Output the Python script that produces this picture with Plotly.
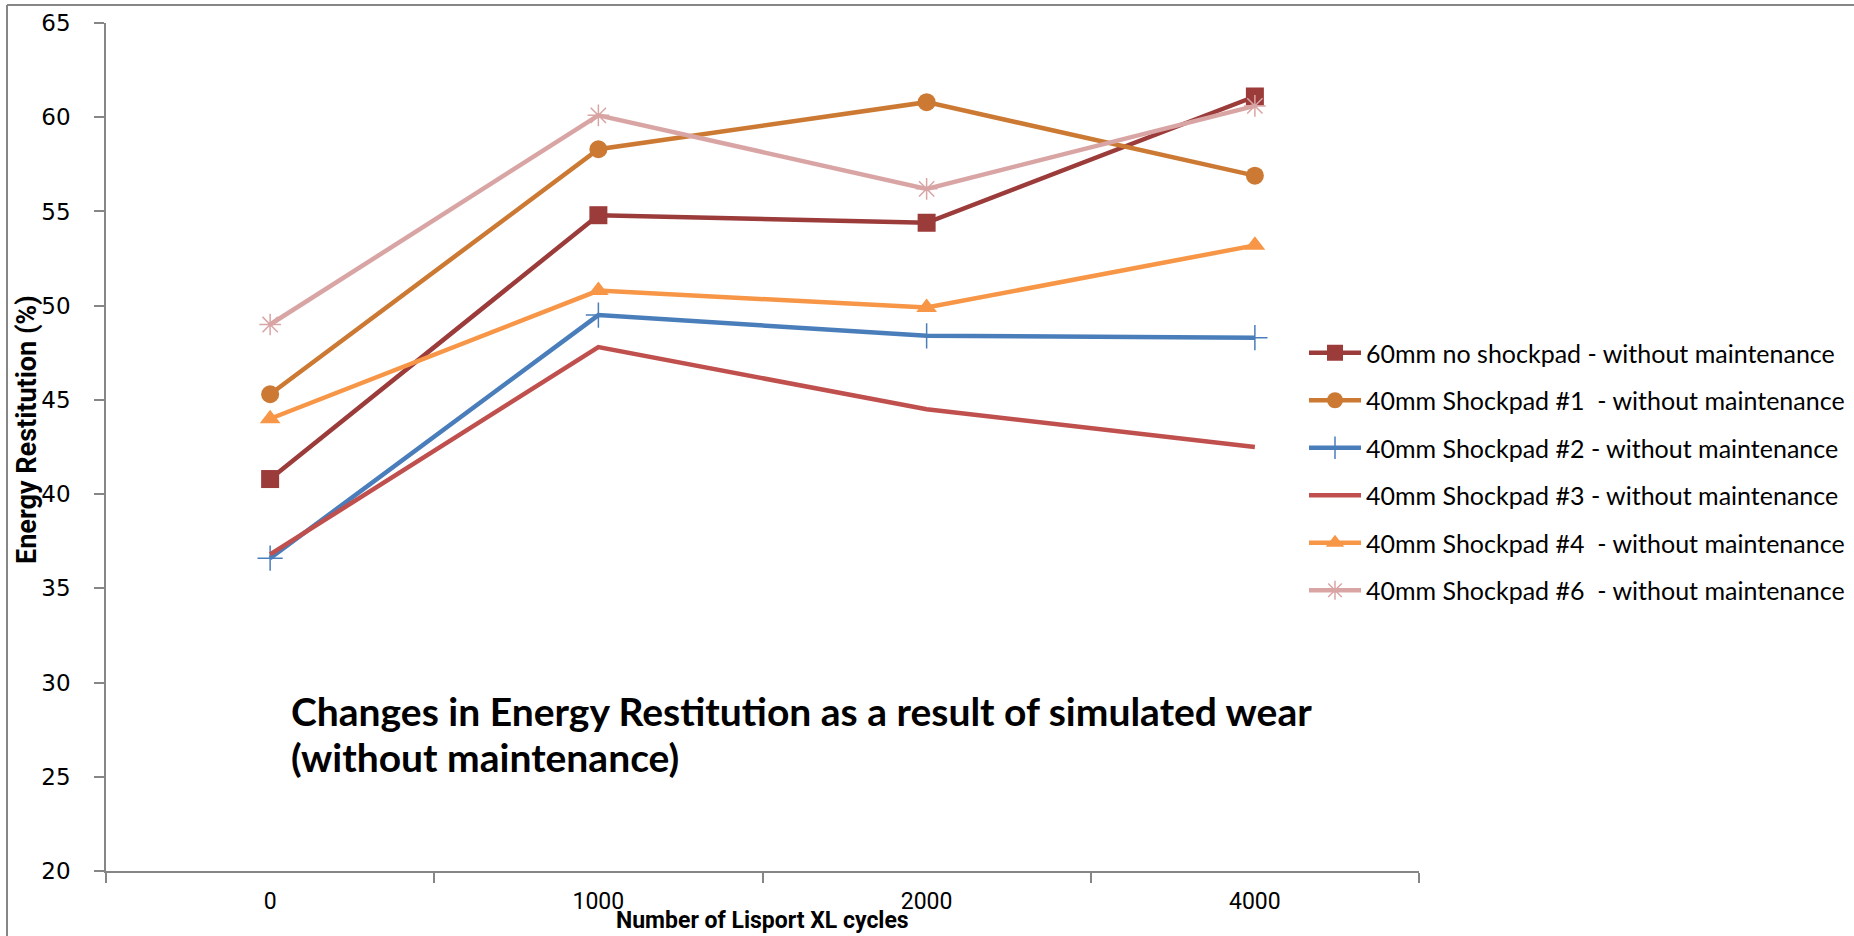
import plotly.graph_objects as go

categories = ["0", "1000", "2000", "4000"]

series_names = [
    "60mm no shockpad - without maintenance",
    "40mm Shockpad #1  - without maintenance",
    "40mm Shockpad #2 - without maintenance",
    "40mm Shockpad #3 - without maintenance",
    "40mm Shockpad #4  - without maintenance",
    "40mm Shockpad #6  - without maintenance",
]
no_shockpad_60 = [40.8, 54.8, 54.4, 61.1]
shockpad_1 = [45.3, 58.3, 60.8, 56.9]
shockpad_2 = [36.6, 49.5, 48.4, 48.3]
shockpad_3 = [36.8, 47.8, 44.5, 42.5]
shockpad_4 = [44.0, 50.8, 49.9, 53.2]
shockpad_6 = [49.0, 60.1, 56.2, 60.6]

title_lines = ["Changes in Energy Restitution as a result of simulated wear",
               "(without maintenance)"]

values = [no_shockpad_60, shockpad_1, shockpad_2, shockpad_3, shockpad_4, shockpad_6]
colors = ["#9B3B3A", "#CC7A33", "#4A7EBB", "#C0504D", "#F79646", "#D9A5A4"]
symbols = ["square", "circle", "cross-thin-open", None, "triangle-up", "asterisk-open"]
sizes = [18, 18, 18, 0, 18, 18]

W, H = 1854, 936
L, R, T, B = 106, 1419, 23, 871


def py(ypix):
    return (B - ypix) / (B - T)


def px(xpix):
    return (xpix - L) / (R - L)


fig = go.Figure()
for i, (name, vals) in enumerate(zip(series_names, values)):
    marker = dict(color=colors[i], size=sizes[i])
    if symbols[i] is not None:
        marker["symbol"] = symbols[i]
        if symbols[i].endswith("open"):
            marker["line"] = dict(color=colors[i], width=1.5)
        mode = "lines+markers"
    else:
        mode = "lines"
    fig.add_trace(go.Scatter(
        x=categories, y=vals, name=name, mode=mode,
        line=dict(color=colors[i], width=4.5),
        marker=marker, legendgroup=f"g{i}",
    ))

annotations = [
    dict(text=f"<b>{title_lines[0]}</b>", xref="paper", yref="paper",
         x=px(289), y=py(711), xanchor="left", yanchor="middle", showarrow=False,
         font=dict(family="Lato", size=39, color="black")),
    dict(text=f"<b>{title_lines[1]}</b>", xref="paper", yref="paper",
         x=px(289), y=py(757), xanchor="left", yanchor="middle", showarrow=False,
         font=dict(family="Lato", size=39, color="black")),
    dict(text="<b>Number of Lisport XL cycles</b>", xref="paper", yref="paper",
         x=0.5, y=py(921), xanchor="center", yanchor="middle",
         showarrow=False, font=dict(family="Roboto", size=23, color="black")),
    dict(text="<b>Energy Restitution (%)</b>", xref="paper", yref="paper",
         x=px(27), y=py(430), xanchor="center", yanchor="middle",
         textangle=-90, showarrow=False,
         font=dict(family="Roboto", size=27, color="black")),
]

fig.update_layout(
    width=W, height=H,
    margin=dict(l=L, r=W - R, t=T, b=H - B, pad=0, autoexpand=False),
    paper_bgcolor="white", plot_bgcolor="white",
    showlegend=True,
    legend=dict(
        x=px(1304), xanchor="left",
        y=py(330), yanchor="top",
        font=dict(family="Lato", size=25, color="black"),
        itemwidth=52, tracegroupgap=12,
        bgcolor="rgba(0,0,0,0)",
    ),
    xaxis=dict(
        type="category", range=[-0.5, 3.5],
        showline=True, linecolor="#868686", linewidth=1.5,
        ticks="outside", tickson="boundaries", ticklen=10, tickcolor="#868686",
        tickwidth=1.5, ticklabelstandoff=9,
        tickfont=dict(family="Roboto", size=23, color="black"),
        showgrid=False, zeroline=False,
    ),
    yaxis=dict(
        range=[20, 65], dtick=5, tick0=20,
        showline=True, linecolor="#868686", linewidth=1.5,
        ticks="outside", ticklen=10, tickcolor="#868686", tickwidth=1.5,
        ticklabelstandoff=19,
        tickfont=dict(family="DejaVu Sans", size=23, color="black"),
        showgrid=False, zeroline=False,
    ),
    annotations=annotations,
    shapes=[
        dict(type="line", xref="paper", yref="paper",
             x0=px(7), x1=px(1860), y0=py(5), y1=py(5),
             line=dict(color="#868686", width=2)),
        dict(type="line", xref="paper", yref="paper",
             x0=px(7), x1=px(7), y0=py(5), y1=py(940),
             line=dict(color="#868686", width=2)),
    ],
)

fig.write_html("out.html")
